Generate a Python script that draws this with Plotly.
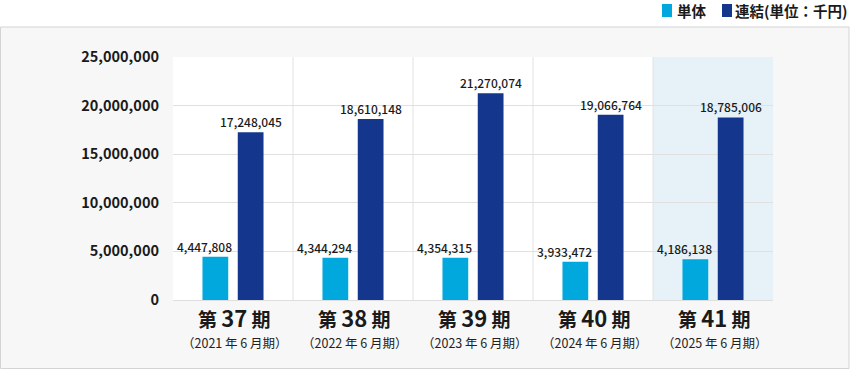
import plotly.graph_objects as go

periods = ["第37期", "第38期", "第39期", "第40期", "第41期"]
period_nums = ["37", "38", "39", "40", "41"]
period_sub = ["（2021 年 6 月期）", "（2022 年 6 月期）", "（2023 年 6 月期）",
              "（2024 年 6 月期）", "（2025 年 6 月期）"]
tandoku = [4447808, 4344294, 4354315, 3933472, 4186138]
renketsu = [17248045, 18610148, 21270074, 19066764, 18785006]
y_ticks = [0, 5000000, 10000000, 15000000, 20000000, 25000000]

LIGHT = "#00a8de"
DARK = "#14368c"
FONT = "Noto Sans CJK JP"

W, H = 850, 371
ML, MR, MT, MB = 173, 77, 57, 71
PW, PH = W - ML - MR, H - MT - MB

def px_x(p):
    return (p - ML) / PW

def px_y(p):
    return (H - MB - p) / PH

fig = go.Figure()
fig.add_trace(go.Bar(x=periods, y=tandoku, name="単体", marker_color=LIGHT,
                     marker_line_width=0))
fig.add_trace(go.Bar(x=periods, y=renketsu, name="連結(単位:千円)", marker_color=DARK,
                     marker_line_width=0))

shapes = [
    dict(type="rect", xref="paper", yref="paper", x0=px_x(0.5), x1=px_x(849),
         y0=px_y(368.5), y1=px_y(27), fillcolor="#f7f7f7",
         line=dict(color="#d4d4d4", width=1), layer="below"),
    dict(type="rect", xref="paper", yref="paper", x0=0, x1=1, y0=0, y1=1,
         fillcolor="white", line=dict(width=0), layer="below"),
    dict(type="rect", xref="x", yref="paper", x0=3.5, x1=4.5, y0=0, y1=1,
         fillcolor="#e6f2f8", line=dict(width=0), layer="below"),
]
for k in range(1, len(periods)):
    shapes.append(dict(type="line", xref="x", yref="paper", x0=k - 0.5, x1=k - 0.5,
                       y0=0, y1=1, line=dict(color="#e2e2e2", width=1), layer="below"))

shapes.append(dict(type="rect", xref="paper", yref="paper", x0=px_x(662), x1=px_x(672),
                   y0=px_y(17), y1=px_y(4), fillcolor=LIGHT, line=dict(width=0)))
shapes.append(dict(type="rect", xref="paper", yref="paper", x0=px_x(722), x1=px_x(732),
                   y0=px_y(17), y1=px_y(4), fillcolor=DARK, line=dict(width=0)))

annotations = []
for i, p in enumerate(periods):
    annotations.append(dict(x=p, y=tandoku[i], xref="x", yref="y", text=f"{tandoku[i]:,}",
                            showarrow=False, yanchor="bottom", xanchor="center", xshift=-29,
                            font=dict(family=FONT, size=12, color="#1a1a1a", weight=500)))
    annotations.append(dict(x=p, y=renketsu[i], xref="x", yref="y", text=f"{renketsu[i]:,}",
                            showarrow=False, yanchor="bottom", xanchor="center", xshift=18,
                            font=dict(family=FONT, size=12, color="#1a1a1a", weight=500)))
    label = ("<b>第 "
             f"<span style='font-size:22px'>{period_nums[i]}</span>"
             " 期</b>")
    annotations.append(dict(x=p, y=px_y(299.5), xref="x", yref="paper", text=label,
                            showarrow=False, yanchor="top", xanchor="center", xshift=1,
                            borderpad=0,
                            font=dict(family=FONT, size=19, color="#1a1a1a")))
    annotations.append(dict(x=p, y=px_y(332), xref="x", yref="paper", text=period_sub[i],
                            showarrow=False, yanchor="top", xanchor="center", xshift=2,
                            borderpad=0,
                            font=dict(family=FONT, size=12.5, color="#222222")))

annotations.append(dict(x=px_x(675), y=px_y(10.5), xref="paper", yref="paper", text="単体",
                        showarrow=False, xanchor="left", yanchor="middle",
                        font=dict(family=FONT, size=14.5, color="#1a1a1a", weight="bold")))
annotations.append(dict(x=px_x(849), y=px_y(10.5), xref="paper", yref="paper",
                        text="連結(単位：千円)",
                        showarrow=False, xanchor="right", yanchor="middle",
                        font=dict(family=FONT, size=14.5, color="#1a1a1a", weight="bold")))

fig.update_layout(
    width=W, height=H,
    margin=dict(l=ML, r=MR, t=MT, b=MB, pad=0),
    paper_bgcolor="white",
    plot_bgcolor="rgba(0,0,0,0)",
    barmode="group",
    bargap=0.412,
    bargroupgap=0.27,
    showlegend=False,
    shapes=shapes,
    annotations=annotations,
    font=dict(family=FONT, color="#1a1a1a"),
)
fig.update_xaxes(range=[-0.5, 4.5], showticklabels=False, showgrid=False,
                 showline=True, linecolor="#dedede", linewidth=1, ticks="", fixedrange=True)
fig.update_yaxes(range=[0, 25000000], tickvals=y_ticks, tickformat=",d",
                 showgrid=True, gridcolor="#e0e0e0", gridwidth=1, zeroline=False,
                 ticks="", ticklabelstandoff=13,
                 tickfont=dict(family=FONT, size=14.5, color="#1a1a1a", weight="bold"),
                 fixedrange=True)

fig.write_html("out.html", config={"displayModeBar": False},
               post_script="document.body.style.margin='0';document.body.style.padding='0';")
